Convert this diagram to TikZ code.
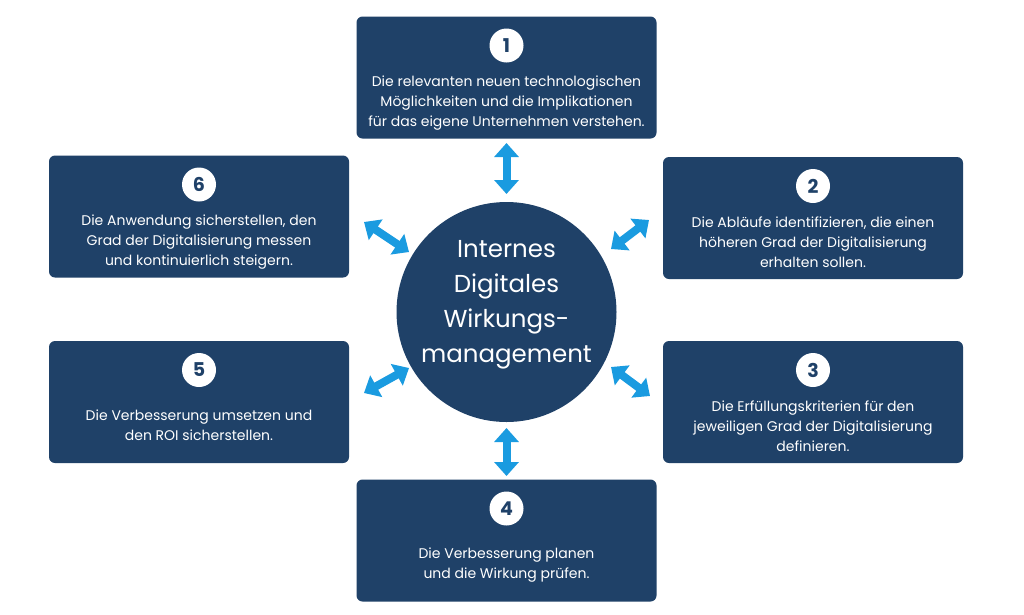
\documentclass[tikz,border=0pt]{standalone}
\usepackage{fontspec}
\setmainfont{Poppins}
\usetikzlibrary{arrows.meta, positioning}
\definecolor{navy}{HTML}{1F4168}
\definecolor{skyblue}{HTML}{1A9BE0}

\begin{document}
\begin{tikzpicture}[x=1pt, y=-1pt,
	stepbox/.style={draw=none, fill=navy, rounded corners=6pt, minimum width=300pt, minimum height=122pt},
	num/.style={circle, fill=white, text=navy, minimum size=34pt, inner sep=0pt, font=\fontsize{19}{19}\selectfont\bfseries},
	desc/.style={text=white, align=center, inner sep=0pt, font=\fontsize{14}{20}\selectfont},
	link/.style={skyblue, line width=8pt, {Triangle[length=14pt, width=24pt]}-{Triangle[length=14pt, width=24pt]}}]

			% Fix the page size
			\fill[white] (0,0) rectangle (1024,614);
			\useasboundingbox (0,0) rectangle (1024,614);

			% Draw the centre circle
			\node[circle, fill=navy, minimum size=220pt, inner sep=0pt] (hub) at (506.5, 312) {};
			\node[text=white, align=center, font=\fontsize{24.5}{35}\selectfont, yshift=7pt] (title) at (hub) {Internes\\Digitales\\Wirkungs-\\management};

			% Draw the boxes
			\node[stepbox] (b1) at (506.5, 77.5) {};
			\node[stepbox] (b2) at (813, 218) {};
			\node[stepbox] (b3) at (813, 402) {};
			\node[stepbox] (b4) at (506.5, 540.5) {};
			\node[stepbox] (b5) at (199, 402) {};
			\node[stepbox] (b6) at (199, 216.5) {};

			% Draw the numbers
			\node[num, below=12pt of b1.north] (n1) {1};
			\node[num, below=12pt of b2.north] (n2) {2};
			\node[num, below=12pt of b3.north] (n3) {3};
			\node[num, below=12pt of b4.north] (n4) {4};
			\node[num, below=12pt of b5.north] (n5) {5};
			\node[num, below=12pt of b6.north] (n6) {6};

			% Draw the texts
			\node[desc, below=13pt of n1] (t1) {Die relevanten neuen technologischen\\M\"oglichkeiten und die Implikationen\\f\"ur das eigene Unternehmen verstehen.};
			\node[desc, below=13pt of n2] (t2) {Die Abl\"aufe identifizieren, die einen\\h\"oheren Grad der Digitalisierung\\erhalten sollen.};
			\node[desc, below=13pt of n3] (t3) {Die Erf\"ullungskriterien f\"ur den\\jeweiligen Grad der Digitalisierung\\definieren.};
			\node[desc, below=22pt of n4] (t4) {Die Verbesserung planen\\und die Wirkung pr\"ufen.};
			\node[desc, below=22pt of n5] (t5) {Die Verbesserung umsetzen und\\den ROI sicherstellen.};
			\node[desc, below=13pt of n6] (t6) {Die Anwendung sicherstellen, den\\Grad der Digitalisierung messen\\und kontinuierlich steigern.};

			% Arrow ends
			\coordinate (a1) at (506.5, 143);
			\coordinate (h1) at (506.5, 194);
			\coordinate (a2) at (649, 220);
			\coordinate (h2) at (611, 249);
			\coordinate (a3) at (650, 396);
			\coordinate (h3) at (611, 367);
			\coordinate (a4) at (506.5, 476);
			\coordinate (h4) at (506.5, 428);
			\coordinate (a5) at (364, 393);
			\coordinate (h5) at (409, 368);
			\coordinate (a6) at (364, 222);
			\coordinate (h6) at (409, 252);

			% Draw the arrows
			\draw[link] (h1) -- (a1);
			\draw[link] (h2) -- (a2);
			\draw[link] (h3) -- (a3);
			\draw[link] (h4) -- (a4);
			\draw[link] (h5) -- (a5);
			\draw[link] (h6) -- (a6);

		\end{tikzpicture}
\end{document}
